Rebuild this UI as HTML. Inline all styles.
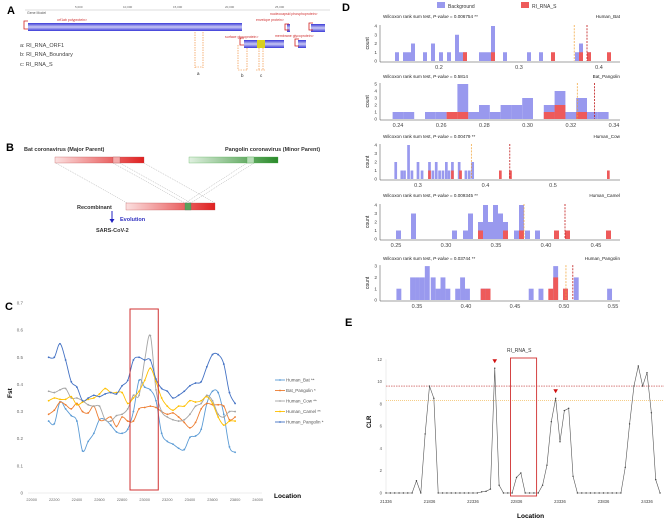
<!DOCTYPE html>
<html><head><meta charset="utf-8"><style>
html,body{margin:0;padding:0;background:#fff}
svg{display:block;font-family:"Liberation Sans",sans-serif}
</style></head><body>
<svg id="fig" width="667" height="520" viewBox="0 0 667 520">
<defs>
<linearGradient id="gb" x1="0" y1="0" x2="0" y2="1"><stop offset="0" stop-color="#3a3ad8"/><stop offset="0.5" stop-color="#c8c8f4"/><stop offset="1" stop-color="#3a3ad8"/></linearGradient>
<linearGradient id="gr" x1="0" y1="0" x2="1" y2="0"><stop offset="0" stop-color="#fbe0e0"/><stop offset="1" stop-color="#e02020"/></linearGradient>
<linearGradient id="gg" x1="0" y1="0" x2="1" y2="0"><stop offset="0" stop-color="#e0f0e0"/><stop offset="1" stop-color="#2a8a2a"/></linearGradient>
</defs>
<!-- Panel A -->
<g>
<text x="7" y="14" font-size="11" font-weight="bold">A</text>
<line x1="25" y1="10" x2="330" y2="10" stroke="#bbb" stroke-width="0.5"/>
<g font-size="3" fill="#666">
<text x="75" y="8">5,000</text><text x="123" y="8">10,000</text><text x="173" y="8">15,000</text><text x="225" y="8">20,000</text><text x="275" y="8">25,000</text></g>
<text x="27" y="14" font-size="3.5" fill="#555">Gene Model</text>
<rect x="28" y="23" width="214" height="8" fill="url(#gb)"/>
<path d="M28 21 h-4 v8 h4" fill="none" stroke="#d02020" stroke-width="0.8"/>
<text x="57" y="21" font-size="3.5" fill="#d03030">orf1ab polyprotein&gt;</text>
<rect x="244" y="40" width="40" height="8" fill="url(#gb)"/>
<rect x="257" y="40" width="8" height="8" fill="#d8d020"/>
<path d="M244 38 h-4 v7 h4" fill="none" stroke="#d02020" stroke-width="0.8"/>
<text x="225" y="38" font-size="3.5" fill="#d03030">surface glycoprotein&gt;</text>
<rect x="287" y="24" width="3" height="8" fill="url(#gb)"/><path d="M289 24 h-4 v6 h4" fill="none" stroke="#d02020" stroke-width="0.8"/>
<text x="256" y="21" font-size="3.5" fill="#d03030">envelope protein&gt;</text>
<rect x="311" y="24" width="14" height="8" fill="url(#gb)"/><path d="M313 23 h-4 v7 h4" fill="none" stroke="#d02020" stroke-width="0.8"/>
<text x="270" y="15" font-size="3.5" fill="#d03030">nucleocapsid phosphoprotein&gt;</text>
<rect x="298" y="40" width="8" height="8" fill="url(#gb)"/><path d="M299 39 h-4 v7 h4" fill="none" stroke="#d02020" stroke-width="0.8"/>
<text x="275" y="37" font-size="3.5" fill="#d03030">membrane glycoprotein&gt;</text>
<g stroke="#f08020" stroke-width="0.6" stroke-dasharray="1.5,1">
<line x1="195" y1="32" x2="195" y2="68"/><line x1="203" y1="32" x2="203" y2="68"/><line x1="195" y1="67" x2="203" y2="67"/>
<line x1="238" y1="45" x2="238" y2="70"/><line x1="247" y1="48" x2="247" y2="70"/><line x1="238" y1="70" x2="247" y2="70"/>
<line x1="259" y1="48" x2="259" y2="70"/><line x1="263" y1="48" x2="263" y2="70"/><line x1="256" y1="70" x2="266" y2="70"/></g>
<g font-size="4.5" fill="#222"><text x="197" y="75">a</text><text x="241" y="77">b</text><text x="260" y="77">c</text></g>
<g font-size="5.5" fill="#444">
<text x="20" y="47">a: RI_RNA_ORF1</text><text x="20" y="56">b: RI_RNA_Boundary</text><text x="20" y="66">c: RI_RNA_S</text></g>
</g>
<!-- Panel B -->
<g>
<text x="6" y="151" font-size="11" font-weight="bold">B</text>
<text x="24" y="151" font-size="5.5" font-weight="bold" fill="#333">Bat coronavirus (Major Parent)</text>
<text x="225" y="151" font-size="5.5" font-weight="bold" fill="#333">Pangolin coronavirus (Minor Parent)</text>
<rect x="55" y="157" width="89" height="6" fill="url(#gr)" stroke="#b44" stroke-width="0.3"/>
<rect x="113" y="157" width="7" height="6" fill="#f4aaaa" stroke="#a44" stroke-width="0.3"/>
<rect x="189" y="157" width="89" height="6" fill="url(#gg)" stroke="#4a4" stroke-width="0.3"/>
<rect x="247" y="157" width="7" height="6" fill="#b8dcb8" stroke="#4a4" stroke-width="0.3"/>
<g stroke="#888" stroke-width="0.4" stroke-dasharray="1,1">
<line x1="56" y1="163" x2="127" y2="203"/><line x1="113" y1="163" x2="185" y2="203"/><line x1="120" y1="163" x2="191" y2="203"/><line x1="144" y1="163" x2="215" y2="203"/>
<line x1="247" y1="163" x2="185" y2="203"/><line x1="254" y1="163" x2="191" y2="203"/></g>
<rect x="126" y="203" width="89" height="7" fill="url(#gr)" stroke="#b44" stroke-width="0.3"/>
<rect x="185" y="203" width="6" height="7" fill="#5aa05a" stroke="#386" stroke-width="0.3"/>
<text x="77" y="209" font-size="5.5" font-weight="bold" fill="#333">Recombinant</text>
<line x1="112" y1="211" x2="112" y2="220" stroke="#2020c0" stroke-width="1"/><path d="M109.5 219 L114.5 219 L112 223 Z" fill="#2020c0"/>
<text x="120" y="221" font-size="5.5" font-weight="bold" fill="#3030c0">Evolution</text>
<text x="96" y="232" font-size="5.5" font-weight="bold" fill="#333">SARS-CoV-2</text>
</g>
<!-- Panel C -->
<g id="pc">
<text x="5" y="310" font-size="11" font-weight="bold">C</text>
<text x="0" y="0" font-size="6.5" font-weight="bold" transform="translate(12,398) rotate(-90)">Fst</text>
<text x="274" y="498" font-size="6.5" font-weight="bold">Location</text>
</g>
<!-- Panel D -->
<g id="pd">
<text x="342" y="11" font-size="11" font-weight="bold">D</text>
<rect x="437" y="2" width="8" height="6" fill="#9999ee"/>
<text x="448" y="8" font-size="5" fill="#333">Background</text>
<rect x="521" y="2" width="8" height="6" fill="#ee5a5a"/>
<text x="532" y="8" font-size="5" fill="#333">RI_RNA_S</text>
</g>
<!-- Panel E -->
<g id="pe">
<text x="345" y="326" font-size="11" font-weight="bold">E</text>
<text x="0" y="0" font-size="6" font-weight="bold" transform="translate(371,428) rotate(-90)">CLR</text>
<text x="517" y="518" font-size="6.5" font-weight="bold">Location</text>
<text x="507" y="352" font-size="5" fill="#333">RI_RNA_S</text>
</g>
</svg>
<script>
const NS="http://www.w3.org/2000/svg";
function mk(parent,tag,attrs){const e=document.createElementNS(NS,tag);for(const k in attrs)e.setAttribute(k,attrs[k]);parent.appendChild(e);return e;}

// ---------- Panel C data ----------
const cStart=22150, cStep=50;
const cYTicks=[0,0.1,0.2,0.3,0.4,0.5,0.6,0.7];
const cXTicks=[22000,22200,22400,22600,22800,23000,23200,23400,23600,23800,24000];
const cSeriesNames=["Human_Bat","Bat_Pangolin","Human_Cow","Human_Camel","Human_Pangolin"];
const cSeriesStars=["**","*","**","**","*"];
const humanBat=[0.265,0.255,0.335,0.31,0.285,0.265,0.155,0.19,0.22,0.27,0.27,0.25,0.225,0.22,0.235,0.30,0.415,0.39,0.38,0.34,0.22,0.19,0.18,0.165,0.16,0.205,0.21,0.235,0.33,0.375,0.37,0.29,0.17,0.15];
const batPangolin=[0.29,0.305,0.335,0.325,0.31,0.33,0.30,0.295,0.32,0.27,0.27,0.28,0.245,0.28,0.265,0.265,0.31,0.315,0.32,0.315,0.30,0.29,0.295,0.28,0.26,0.24,0.26,0.31,0.33,0.325,0.325,0.32,0.27,0.28];
const humanCow=[0.375,0.37,0.38,0.385,0.35,0.35,0.34,0.325,0.32,0.32,0.27,0.265,0.285,0.29,0.31,0.36,0.36,0.49,0.58,0.38,0.30,0.28,0.27,0.265,0.27,0.29,0.32,0.33,0.36,0.34,0.29,0.28,0.30,0.30];
const humanCamel=[0.34,0.35,0.345,0.345,0.355,0.325,0.335,0.345,0.35,0.365,0.385,0.37,0.37,0.37,0.33,0.35,0.375,0.415,0.46,0.41,0.35,0.32,0.305,0.32,0.32,0.34,0.335,0.34,0.355,0.33,0.28,0.25,0.265,0.265];
const humanPangolin=[0.50,0.50,0.55,0.49,0.41,0.39,0.34,0.35,0.36,0.355,0.365,0.37,0.365,0.395,0.415,0.49,0.50,0.49,0.49,0.42,0.385,0.375,0.35,0.36,0.375,0.395,0.405,0.41,0.465,0.51,0.51,0.475,0.37,0.33];
const cRegion=[22870,23120];

(function(){
const g=document.getElementById('pc');
const xS=L=>31.7+(L-22000)*0.113, yS=v=>493-v*271.4;
const cols=["#5b9bd5","#ed7d31","#a5a5a5","#ffc000","#4472c4"];
const data=[humanBat,batPangolin,humanCow,humanCamel,humanPangolin];
const base=mk(g,'line',{x1:28,y1:493,x2:262,y2:493,stroke:'#d9d9d9','stroke-width':0.6});


cYTicks.forEach(v=>{const t=mk(g,'text',{x:23,y:yS(v)+1.5,'font-size':4.5,fill:'#666','text-anchor':'end'});t.textContent=v===0?'0':v.toFixed(1);

});
cXTicks.forEach(v=>{const t=mk(g,'text',{x:xS(v),y:501,'font-size':3.8,fill:'#666','text-anchor':'middle'});t.textContent=v;

});
data.forEach((arr,si)=>{
 const pts=arr.map((v,i)=>[xS(cStart+i*cStep),yS(v)]);
 let d='M'+pts[0].join(' ');
 for(let i=1;i<pts.length;i++){const p0=pts[i-2]||pts[i-1],p1=pts[i-1],p2=pts[i],p3=pts[i+1]||p2;
  d+=` C${p1[0]+(p2[0]-p0[0])/6} ${p1[1]+(p2[1]-p0[1])/6} ${p2[0]-(p3[0]-p1[0])/6} ${p2[1]-(p3[1]-p1[1])/6} ${p2[0]} ${p2[1]}`;}
 const path=mk(g,'path',{d:d,fill:'none',stroke:cols[si],'stroke-width':0.9});
 
 
 pts.forEach(p=>{const c=mk(g,'circle',{cx:p[0],cy:p[1],r:0.9,fill:cols[si]});
 
 });
 const ly=380+si*10.5;
 const ll=mk(g,'line',{x1:275,y1:ly,x2:285,y2:ly,stroke:cols[si],'stroke-width':0.9});
 
 
 mk(g,'circle',{cx:280,cy:ly,r:0.9,fill:cols[si]});
 const lt=mk(g,'text',{x:286,y:ly+1.6,'font-size':4.5,fill:'#555'});lt.textContent=cSeriesNames[si]+' '+cSeriesStars[si];
 
 
});
const box=mk(g,'rect',{x:xS(cRegion[0]),y:309,width:xS(cRegion[1])-xS(cRegion[0]),height:181,fill:'none',stroke:'#d03030','stroke-width':1});


})();

// ---------- Panel D data ----------
const dTitles=["Human_Bat","Bat_Pangolin","Human_Cow","Human_Camel","Human_Pangolin"];
const dPvalues=["0.006754 **","0.5814","0.00479 **","0.009345 **","0.03744 **"];
const bgBat=[0.145,0.155,0.160,0.165,0.180,0.190,0.200,0.210,0.220,0.225,0.230,0.250,0.255,0.260,0.265,0.280,0.310,0.325,0.370,0.375,0.385];
const bgBatCount=[1,1,1,2,1,2,1,1,3,1,1,1,1,1,4,1,1,1,1,2,1];
const riBat=[0.230,0.265,0.340,0.375,0.385,0.410];
const riBatCount=[1,1,1,1,1,1];
const bgBP=[0.2375,0.2425,0.2525,0.2575,0.2675,0.2725,0.2775,0.2825,0.2875,0.2925,0.2975,0.3075,0.3125,0.3175,0.3225,0.3275,0.3325];
const bgBPCount=[1,1,1,1,5,1,2,1,2,2,3,2,4,1,3,1,1];
const riBP=[0.2625,0.2675,0.3075,0.3125,0.3225];
const riBPCount=[1,1,1,2,1];
const bgCow=[0.265,0.274,0.278,0.284,0.289,0.298,0.304,0.315,0.320,0.325,0.330,0.335,0.340,0.344,0.349,0.359,0.369,0.374,0.379];
const bgCowCount=[2,1,1,4,1,2,1,2,1,2,1,1,2,1,2,2,1,1,2];
const riCow=[0.315,0.349,0.361,0.420,0.435,0.580];
const riCowCount=[1,1,1,1,1,1];
const bgCamel=[0.250,0.265,0.306,0.317,0.322,0.332,0.337,0.342,0.347,0.352,0.357,0.368,0.373,0.379,0.389];
const bgCamelCount=[1,3,1,1,3,2,4,2,4,3,2,1,4,1,1];
const riCamel=[0.332,0.357,0.373,0.408,0.419,0.460];
const riCamelCount=[1,1,1,1,1,1];
const bgPan=[0.329,0.343,0.348,0.353,0.358,0.364,0.369,0.374,0.379,0.389,0.394,0.399,0.415,0.420,0.464,0.474,0.489,0.499,0.510,0.544];
const bgPanCount=[1,2,2,2,3,2,1,2,1,1,2,1,1,1,1,1,3,1,2,1];
const riPan=[0.415,0.420,0.484,0.489,0.499];
const riPanCount=[1,1,1,2,1];
const dBgMean=[0.369,0.323,0.379,0.378,0.502];
const dRiMean=[0.385,0.331,0.436,0.419,0.509];
const dXTicks=[[0.2,0.3,0.4],[0.24,0.26,0.28,0.30,0.32,0.34],[0.3,0.4,0.5],[0.25,0.30,0.35,0.40,0.45],[0.35,0.40,0.45,0.50,0.55]];
const dYTicks=[[0,1,2,3,4],[0,1,2,3,4,5],[0,1,2,3,4],[0,1,2,3,4],[0,1,2,3]];

(function(){
const g=document.getElementById('pd');
const L=[
 {rv:0.2,rp:439,k:800,y0:61,yc:8.75,ty:18,bw:0.005},
 {rv:0.24,rp:398,k:2160,y0:119,yc:7,ty:78,bw:0.005},
 {rv:0.3,rp:418,k:675,y0:179,yc:8.5,ty:138,bw:0.004},
 {rv:0.25,rp:396,k:1000,y0:239,yc:8.5,ty:197,bw:0.005},
 {rv:0.35,rp:417,k:980,y0:300,yc:11.3,ty:260,bw:0.005}];
const bgs=[[bgBat,bgBatCount],[bgBP,bgBPCount],[bgCow,bgCowCount],[bgCamel,bgCamelCount],[bgPan,bgPanCount]];
const ris=[[riBat,riBatCount],[riBP,riBPCount],[riCow,riCowCount],[riCamel,riCamelCount],[riPan,riPanCount]];
L.forEach((o,p)=>{
 const xS=v=>o.rp+(v-o.rv)*o.k, yS=c=>o.y0-c*o.yc;
 const sg=mk(g,'g',{});
 
 
 const t=mk(sg,'text',{x:383,y:o.ty,'font-size':4.6,fill:'#222'});
 t.innerHTML='Wilcoxon rank sum test, <tspan font-style="italic">P-value</tspan> = '+dPvalues[p];
 
 
 const nt=mk(sg,'text',{x:620,y:o.ty,'font-size':4.6,fill:'#222','text-anchor':'end'});nt.textContent=dTitles[p];
 
 
 const ax=mk(sg,'line',{x1:380,y1:o.y0+1,x2:620,y2:o.y0+1,stroke:'#444','stroke-width':0.5});
 
 
 const ay=mk(sg,'line',{x1:380,y1:yS(dYTicks[p][dYTicks[p].length-1])-1,x2:380,y2:o.y0+1,stroke:'#444','stroke-width':0.5});
 
 
 dYTicks[p].forEach(c=>{const tt=mk(sg,'text',{x:377,y:yS(c)+1.6,'font-size':4.8,fill:'#444','text-anchor':'end'});tt.textContent=c;
 
 });
 const yl=mk(sg,'text',{x:0,y:0,'font-size':5,fill:'#222',transform:`translate(369,${(o.y0+yS(dYTicks[p][dYTicks[p].length-1]))/2+6}) rotate(-90)`});yl.textContent='count';
 
 
 dXTicks[p].forEach(v=>{const tt=mk(sg,'text',{x:xS(v),y:o.y0+8,'font-size':5.5,fill:'#444','text-anchor':'middle'});tt.textContent=(p===1||p===3||p===4)?v.toFixed(2):v.toFixed(1);
 
 });
 bgs[p][0].forEach((v,i)=>{const r=mk(sg,'rect',{x:xS(v),y:yS(bgs[p][1][i]),width:o.bw*o.k,height:bgs[p][1][i]*o.yc,fill:'#9999ee'});
 
 });
 ris[p][0].forEach((v,i)=>{const r=mk(sg,'rect',{x:xS(v),y:yS(ris[p][1][i]),width:o.bw*o.k,height:ris[p][1][i]*o.yc,fill:'#ee5a5a'});
 
 });
 const top=yS(dYTicks[p][dYTicks[p].length-1])-1;
 const m1=mk(sg,'line',{x1:xS(dBgMean[p]),y1:top,x2:xS(dBgMean[p]),y2:o.y0,stroke:'#f0a030','stroke-width':0.7,'stroke-dasharray':'2,1.2'});
 
 
 const m2=mk(sg,'line',{x1:xS(dRiMean[p]),y1:top,x2:xS(dRiMean[p]),y2:o.y0,stroke:'#c01818','stroke-width':0.8,'stroke-dasharray':'2,1.2'});
 
 
});
})();

// ---------- Panel E data ----------
const eStart=21336, eStep=50;
const eXTicks=[21336,21836,22336,22836,23336,23836,24336];
const eYTicks=[0,2,4,6,8,10,12];
const clr=[0,0,0,0,0,0,0,1.1,0,5.3,9.6,8.5,0,0,0,0,0,0,0,0,0,0,0.1,0.15,0.35,11.2,0.7,0,0,0,1.4,1.8,0,0,0,0,0.7,2.5,6.4,8.5,4.6,7.4,7.6,1.5,0,0,0,0,0,0,0,0,0,0,0,2.3,6.2,9.6,11.4,9.6,10.8,7.2,1.2,0];
const eThreshRed=9.6, eThreshOrange=8.3;
const eRegion=[22836,23136];
const eMarkers=[22586,23286];

(function(){
const g=document.getElementById('pe');
const xS=L=>386+(L-21336)*0.087, yS=v=>493-v*11.14;
const ax=mk(g,'line',{x1:386,y1:yS(12),x2:386,y2:493,stroke:'#ddd','stroke-width':0.5});


eYTicks.forEach(v=>{const t=mk(g,'text',{x:382,y:yS(v)+1.5,'font-size':4.2,fill:'#555','text-anchor':'end'});t.textContent=v;

});
eXTicks.forEach(v=>{const t=mk(g,'text',{x:xS(v),y:503,'font-size':4.2,fill:'#444','text-anchor':'middle'});t.textContent=v;

});
const r1=mk(g,'line',{x1:386,y1:yS(eThreshRed),x2:664,y2:yS(eThreshRed),stroke:'#c03030','stroke-width':0.6,'stroke-dasharray':'1.5,1'});


const r2=mk(g,'line',{x1:386,y1:yS(eThreshOrange),x2:664,y2:yS(eThreshOrange),stroke:'#f0b040','stroke-width':0.6,'stroke-dasharray':'1,1'});


const pts=clr.map((v,i)=>[xS(eStart+i*eStep),yS(v)]);
const pl=mk(g,'polyline',{points:pts.map(p=>p.join(',')).join(' '),fill:'none',stroke:'#555','stroke-width':0.6});


pts.forEach(p=>{const c=mk(g,'circle',{cx:p[0],cy:p[1],r:0.7,fill:'#444'});

});
const box=mk(g,'rect',{x:xS(eRegion[0])-6,y:358,width:(eRegion[1]-eRegion[0])*0.087,height:138,fill:'none',stroke:'#d03030','stroke-width':0.9});


eMarkers.forEach(L=>{const i=Math.round((L-eStart)/eStep);const x=xS(L), y=yS(clr[i])-5;
 const tr=mk(g,'path',{d:`M${x-2.3} ${y-4} L${x+2.3} ${y-4} L${x} ${y} Z`,fill:'#d01010'});
 
 });
})();
</script>
</body></html>
